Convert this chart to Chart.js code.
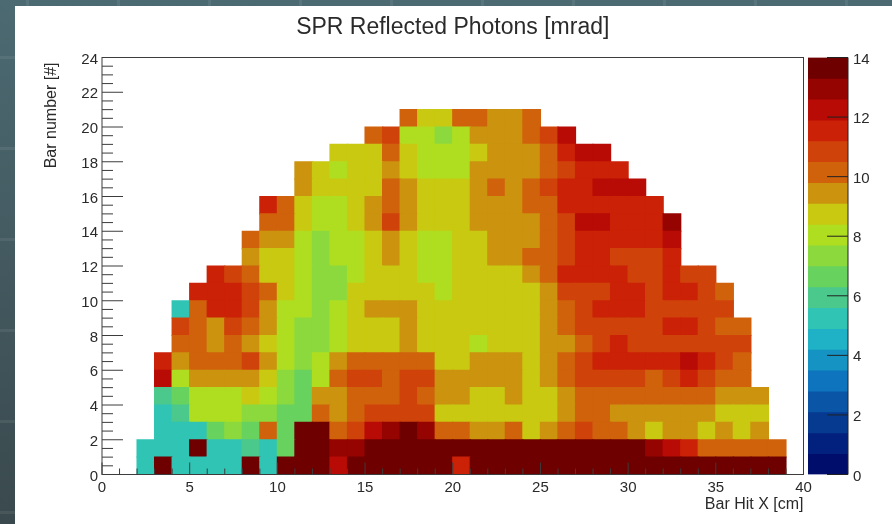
<!DOCTYPE html>
<html>
<head>
<meta charset="utf-8">
<script src="https://cdn.jsdelivr.net/npm/chart.js@4"></script>
<style>
  html, body { margin: 0; padding: 0; width: 892px; height: 524px; overflow: hidden; }
  body { position: relative; background: linear-gradient(#4c6a72, #3a494d); }
  /* faint slide grid behind the white panel */
  #gridH, #gridV { position: absolute; left: 0; top: 0; right: 0; bottom: 0; }
  #gridH { background: repeating-linear-gradient(180deg, transparent 0 56px, rgba(255,255,255,.07) 56px 59px, transparent 59px 91px); }
  #gridV { background: repeating-linear-gradient(90deg, transparent 0 26px, rgba(255,255,255,.07) 26px 29px, transparent 29px 91px); }
  #panel { position: absolute; left: 15px; top: 6px; right: 0; bottom: 0; background: #fff; }
  canvas { position: absolute; top: 0; }
  #mainChart { left: 0; }
  #scaleChart { left: 800px; }
</style>
</head>
<body>
<div id="gridH"></div>
<div id="gridV"></div>
<div id="panel"></div>
<canvas id="mainChart" width="892" height="524"></canvas>
<canvas id="scaleChart" width="92" height="524"></canvas>
<script>
// first filled bin of every row (bin = 1 cm wide)
const rowStart = [2, 2, 3, 3, 3, 3, 3, 4, 4, 4, 5, 6, 8, 8, 9, 9, 11, 11, 13, 15, 17];

const row0 = [5.25,13.65,5.25,5.25,5.25,5.25,13.65,5.25,13.65,13.65,13.65,12.25,13.65,13.65,13.65,13.65,13.65,13.65,11.55,13.65,13.65,13.65,13.65,13.65,13.65,13.65,13.65,13.65,13.65,13.65,13.65,13.65,13.65,13.65,13.65,13.65,13.65];
const row1 = [5.25,5.25,5.25,13.65,5.25,5.25,5.95,5.25,6.65,13.65,13.65,12.95,12.95,13.65,13.65,13.65,13.65,13.65,13.65,13.65,13.65,13.65,13.65,13.65,13.65,13.65,13.65,13.65,13.65,12.95,12.25,11.55,10.15,10.15,10.15,10.15,10.15];
const row2 = [5.25,5.25,5.25,6.65,7.35,6.65,10.15,6.65,13.65,13.65,10.15,10.85,12.25,12.95,13.65,12.95,10.15,10.15,9.45,9.45,10.15,8.75,9.45,10.15,10.85,10.15,10.15,9.45,8.75,9.45,9.45,8.75,9.45,8.75,9.45];
const row3 = [5.25,5.95,8.05,8.05,8.05,7.35,7.35,6.65,6.65,10.15,9.45,10.15,10.85,10.85,10.85,10.85,8.75,8.75,8.75,8.75,8.75,8.75,8.75,9.45,10.15,10.15,9.45,9.45,9.45,9.45,9.45,9.45,8.75,8.75,8.75];
const row4 = [5.95,6.65,8.05,8.05,8.05,8.75,8.05,7.35,6.65,9.45,9.45,10.15,10.15,10.15,10.85,10.15,9.45,9.45,8.75,8.75,9.45,8.75,8.75,9.45,10.15,10.15,10.15,10.15,10.15,10.15,10.15,10.15,9.45,9.45,9.45];
const row5 = [12.25,8.05,9.45,9.45,9.45,9.45,8.75,7.35,6.65,8.05,10.15,10.85,10.85,10.15,10.85,10.85,9.45,9.45,9.45,9.45,9.45,8.75,9.45,10.15,10.85,10.85,10.85,10.85,10.15,10.85,11.55,10.85,10.15,10.15];
const row6 = [11.55,9.45,10.15,10.15,10.15,10.85,9.45,8.05,7.35,8.05,9.45,10.15,10.15,10.15,10.15,10.15,8.75,8.75,9.45,9.45,9.45,8.75,9.45,10.15,10.85,11.55,11.55,11.55,11.55,11.55,12.25,11.55,10.85,10.15];
const row7 = [10.15,10.15,9.45,10.15,9.45,8.75,8.05,7.35,7.35,8.05,8.75,8.75,8.75,9.45,8.75,8.75,8.75,8.05,8.75,8.75,8.75,9.45,9.45,10.15,10.85,11.55,10.85,10.85,10.85,10.85,10.85,10.85,10.85];
const row8 = [10.85,10.15,9.45,10.85,10.15,9.45,8.05,7.35,7.35,8.05,8.75,8.75,8.75,9.45,8.75,8.75,8.75,8.75,8.75,8.75,8.75,9.45,10.15,10.85,10.85,10.85,10.85,10.85,11.55,11.55,10.85,10.15,10.15];
const row9 = [5.25,10.15,11.55,11.55,10.85,9.45,8.05,8.05,7.35,8.05,8.75,9.45,9.45,9.45,8.75,8.75,8.75,8.75,8.75,8.75,8.75,9.45,10.15,10.85,11.55,11.55,11.55,10.85,10.85,10.85,10.85,10.85];
const row10 = [11.55,11.55,11.55,10.85,10.15,8.75,8.05,7.35,7.35,8.75,8.75,8.75,8.75,8.75,8.05,8.75,8.75,8.75,8.75,8.75,9.45,10.85,10.85,10.85,11.55,11.55,10.85,11.55,11.55,10.85,10.15];
const row11 = [11.55,10.85,10.15,8.75,8.75,8.05,7.35,7.35,8.05,8.75,8.75,8.75,8.05,8.05,8.75,8.75,8.75,8.75,9.45,10.15,11.55,11.55,11.55,11.55,10.85,10.85,11.55,10.85,10.85];
const row12 = [9.45,8.75,8.75,8.05,7.35,8.05,8.05,8.75,9.45,8.75,8.05,8.05,8.75,8.75,9.45,9.45,10.15,10.15,10.85,11.55,11.55,10.85,10.85,10.85,11.55];
const row13 = [10.15,9.45,9.45,8.05,7.35,8.05,8.05,8.75,9.45,8.75,8.05,8.05,8.75,8.75,9.45,9.45,9.45,10.15,10.85,11.55,11.55,11.55,11.55,11.55,12.25];
const row14 = [10.15,10.15,8.75,8.05,8.05,8.75,9.45,10.85,9.45,8.75,8.75,8.75,9.45,9.45,9.45,9.45,10.15,10.85,12.25,12.25,11.55,11.55,11.55,12.95];
const row15 = [11.55,10.15,8.75,8.05,8.05,8.75,9.45,10.15,9.45,8.75,8.75,8.75,9.45,9.45,9.45,10.15,10.15,11.55,11.55,11.55,11.55,11.55,11.55];
const row16 = [9.45,8.75,8.75,8.75,8.75,10.15,9.45,8.75,8.75,8.75,9.45,10.15,9.45,10.15,10.85,11.55,11.55,12.25,12.25,12.25];
const row17 = [9.45,8.75,8.05,8.75,8.75,9.45,8.75,8.05,8.05,8.05,9.45,9.45,9.45,9.45,10.15,10.85,11.55,11.55,11.55];
const row18 = [8.75,8.75,8.75,10.15,8.75,8.05,8.05,8.05,8.75,9.45,9.45,9.45,10.15,11.55,12.25,12.25];
const row19 = [10.15,10.85,8.05,8.05,7.35,8.05,9.45,9.45,9.45,10.15,10.85,12.25];
const row20 = [10.15,8.75,8.75,10.15,10.15,9.45,9.45,10.15];

const rows = [row0, row1, row2, row3, row4, row5, row6, row7, row8, row9, row10,
  row11, row12, row13, row14, row15, row16, row17, row18, row19, row20];

// colour bar: 20 contours from 0 to 14
const levelColors = ['#000d6b', '#02207e', '#053a90', '#0a55a6', '#0e74bd', '#1593c3', '#1fb1c5',
  '#30c4b4', '#4bc98c', '#68d25e', '#8cd93e', '#afde20', '#c8c910', '#cb930e', '#d0620c',
  '#cf430b', '#cb2107', '#b90b05', '#950400', '#6e0000'];
const zMax = 14;
const levelStep = zMax / levelColors.length;

const textColor = '#2a2a2a';
const lineColor = '#3c3c3c';
const fontName = '"Liberation Sans", Arial, sans-serif';

function colorFor(v) {
  const n = Math.min(levelColors.length - 1, Math.floor(v / levelStep));
  return levelColors[n];
}

function tick(ctx, x1, y1, x2, y2) {
  ctx.beginPath();
  ctx.moveTo(x1, y1);
  ctx.lineTo(x2, y2);
  ctx.stroke();
}

// inward pointing ROOT style ticks and the frame
const frameTicks = {
  id: 'frameTicks',
  afterDatasetsDraw(chart) {
    const { ctx, chartArea: a, scales } = chart;
    ctx.save();
    ctx.strokeStyle = lineColor;
    ctx.lineWidth = 1;
    for (let v = 0; v <= 40; v += 1) {
      const x = scales.x.getPixelForValue(v);
      tick(ctx, x, a.bottom, x, a.bottom - (v % 5 === 0 ? 12 : 6));
    }
    for (let v = 0; v <= 24; v += 0.5) {
      const y = scales.y.getPixelForValue(v);
      tick(ctx, a.left, y, a.left + (v % 2 === 0 ? 21 : 11), y);
    }
    ctx.strokeRect(a.left, a.top, a.right - a.left, a.bottom - a.top);
    // y title sits a little below the axis end
    ctx.fillStyle = textColor;
    ctx.font = '16px ' + fontName;
    ctx.textAlign = 'right';
    ctx.textBaseline = 'middle';
    ctx.translate(52, a.top + 5);
    ctx.rotate(-Math.PI / 2);
    ctx.fillText('Bar number [#]', 0, 0);
    ctx.restore();
  }
};

const scaleTicks = {
  id: 'scaleTicks',
  afterDatasetsDraw(chart) {
    const { ctx, chartArea: a, scales } = chart;
    ctx.save();
    ctx.strokeStyle = '#222';
    ctx.lineWidth = 1;
    for (let v = 0; v <= zMax; v += 2) {
      const y = scales.y.getPixelForValue(v);
      tick(ctx, a.right, y, a.right - 21, y);
    }
    tick(ctx, a.right, a.top, a.right, a.bottom);
    ctx.restore();
  }
};

const rowDatasets = rows.map((values, j) => ({
  data: values.map((v, k) => ({ x: rowStart[j] + k + 0.5, y: [j, j + 1], z: v })),
  backgroundColor: c => (c.raw ? colorFor(c.raw.z) : 'transparent'),
  borderWidth: 0,
  inflateAmount: 0.6
}));

new Chart(document.getElementById('mainChart'), {
  type: 'bar',
  data: { datasets: rowDatasets },
  plugins: [frameTicks],
  options: {
    responsive: false,
    animation: false,
    grouped: false,
    barPercentage: 1,
    categoryPercentage: 1,
    layout: { padding: { right: 88.5 } },
    plugins: {
      legend: { display: false },
      tooltip: { enabled: false },
      title: {
        display: true,
        fullSize: false,
        text: 'SPR Reflected Photons [mrad]',
        color: textColor,
        font: { family: fontName, size: 23, weight: 'normal' },
        padding: { top: 14, bottom: 15.9 }
      }
    },
    scales: {
      x: {
        type: 'linear',
        offset: false,
        min: 0,
        max: 40,
        grid: { display: false, drawTicks: false },
        border: { display: false },
        ticks: {
          stepSize: 5,
          padding: 4,
          maxRotation: 0,
          color: textColor,
          font: { family: fontName, size: 15 }
        },
        title: {
          display: true,
          text: 'Bar Hit X [cm]',
          align: 'end',
          color: textColor,
          font: { family: fontName, size: 16 },
          padding: { top: 0, bottom: 9.4 }
        },
        afterFit(scale) { scale.height = 49.5; }
      },
      y: {
        type: 'linear',
        min: 0,
        max: 24,
        grid: { display: false, drawTicks: false },
        border: { display: false },
        ticks: {
          stepSize: 2,
          padding: 4,
          labelOffset: 2,
          color: textColor,
          font: { family: fontName, size: 15 }
        },
        afterFit(scale) { scale.width = 102; }
      }
    }
  }
});

new Chart(document.getElementById('scaleChart'), {
  type: 'bar',
  data: {
    datasets: [{
      data: levelColors.map((c, n) => ({ x: 0.5, y: [n * levelStep, (n + 1) * levelStep] })),
      backgroundColor: levelColors,
      borderWidth: 0
    }]
  },
  plugins: [scaleTicks],
  options: {
    responsive: false,
    animation: false,
    barPercentage: 1,
    categoryPercentage: 1,
    layout: { padding: { top: 57.5, left: 8 } },
    plugins: { legend: { display: false }, tooltip: { enabled: false } },
    scales: {
      x: {
        type: 'linear',
        offset: false,
        min: 0,
        max: 1,
        display: false,
        afterFit(scale) { scale.height = 49.5; }
      },
      y: {
        type: 'linear',
        position: 'right',
        min: 0,
        max: zMax,
        grid: { display: false, drawTicks: false },
        border: { display: false },
        ticks: {
          stepSize: 2,
          padding: 5,
          labelOffset: 2,
          color: textColor,
          font: { family: fontName, size: 15 }
        },
        afterFit(scale) { scale.width = 44; }
      }
    }
  }
});
</script>
</body>
</html>
